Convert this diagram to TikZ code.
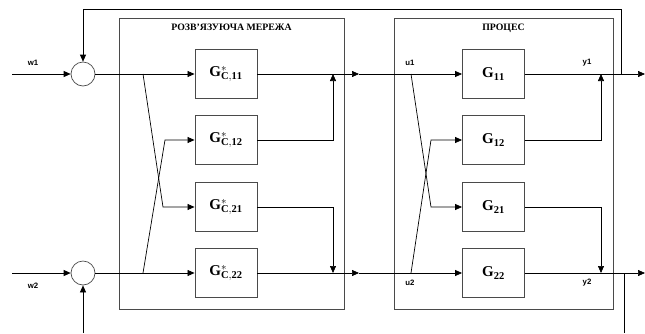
\documentclass[tikz,border=0pt]{standalone}
\usepackage{fontspec}
\setmainfont{Liberation Serif}
\newfontfamily\lblfont{Liberation Sans}
\usetikzlibrary{arrows.meta,calc,positioning}
\definecolor{BoxLine}{HTML}{4A4A4A}

\begin{document}
\begin{tikzpicture}[x=1pt,y=-1pt,>={Triangle[length=7pt,width=6pt]},line width=0.7pt,
    blk/.style={draw=BoxLine,line width=0.9pt,minimum width=62pt,minimum height=49pt,inner sep=0pt,font=\fontsize{15}{15}\selectfont},
    sumc/.style={draw=BoxLine,circle,minimum size=24pt,inner sep=0pt},
    area/.style={draw=BoxLine,line width=0.9pt,minimum height=291pt,inner sep=0pt},
    ttl/.style={font=\bfseries\fontsize{9.8}{9.8}\selectfont,anchor=north,yshift=-3pt},
    sig/.style={font=\lblfont\bfseries\fontsize{7.8}{7.8}\selectfont}]
        \useasboundingbox (0,0) rectangle (645,333);
        % frames
        \node[area,minimum width=225pt] (dec) at (231.5,163.5) {};
        \node[area,minimum width=219pt] (proc) at (503.5,163.5) {};
        \node[ttl] (dect) at (dec.north) {РОЗВ'ЯЗУЮЧА МЕРЕЖА};
        \node[ttl] (proct) at (proc.north) {ПРОЦЕС};
        % blocks
        \foreach \n/\y in {11/74,12/140,21/207,22/273} {
          \node[blk] (c\n) at (226,\y) {$\mathbf{G}^{*}_{\mathbf{C{,}\n}}$};
          \node[blk] (g\n) at (493.5,\y) {$\mathbf{G}_{\mathbf{\n}}$};
        }
        \node[sumc] (sum1) at (83,74) {};
        \node[sumc] (sum2) at (83,273) {};
        % signal labels
        \node[sig] (lw1) at (33,63) {w1};
        \node[sig] (lw2) at (33,286) {w2};
        \node[sig] (lu1) at (410,63) {u1};
        \node[sig] (lu2) at (410,283) {u2};
        \node[sig] (ly1) at (587,63) {y1};
        \node[sig] (ly2) at (587,283) {y2};
        % points
        \coordinate (in1) at (12,74);
        \coordinate (in3) at (12,273);
        \coordinate (in2) at (83,333);
        \coordinate (b1) at (143,74);
        \coordinate (b2) at (143,273);
        \coordinate (k1) at (163,207);
        \coordinate (k2) at (165,140);
        \coordinate (j1) at (333,74);
        \coordinate (j2) at (333,273);
        \coordinate (m1) at (359,74);
        \coordinate (m2) at (359,273);
        \coordinate (p1) at (411,74);
        \coordinate (p2) at (411,273);
        \coordinate (q1) at (431,207);
        \coordinate (q2) at (431,140);
        \coordinate (o1) at (601,74);
        \coordinate (o2) at (601,273);
        \coordinate (e1) at (645,74);
        \coordinate (e2) at (645,273);
        \coordinate (f1) at (621,74);
        \coordinate (top) at (83,9.5);
        \coordinate (f2) at (624,273);
        \coordinate (f2b) at (624,333);
        % inputs
        \draw[->] (in1) -- (sum1);
        \draw[->] (in3) -- (sum2);
        \draw[->] (in2) -- (sum2.south);
        \draw[->] (sum1) -- (c11);
        \draw[->] (sum2) -- (c22);
        \draw[->] (b1) -- (k1) -- (c21.west);
        \draw[->] (b2) -- (k2) -- (c12.west);
        % decoupler outputs
        \draw[->] (c12.east) -| (j1);
        \draw[->] (c21.east) -| (j2);
        \draw[->] (c11.east) -- (m1);
        \draw[->] (c22.east) -- (m2);
        \draw[->] (m1) -- (g11.west);
        \draw[->] (m2) -- (g22.west);
        % process
        \draw[->] (p1) -- (q1) -- (g21.west);
        \draw[->] (p2) -- (q2) -- (g12.west);
        \draw[->] (g12.east) -| (o1);
        \draw[->] (g21.east) -| (o2);
        \draw[->] (g11.east) -- (e1);
        \draw[->] (g22.east) -- (e2);
        % feedback
        \draw[->] (f1) |- (top) -- (sum1.north);
        \draw (f2) -- (f2b);
\end{tikzpicture}
\end{document}
